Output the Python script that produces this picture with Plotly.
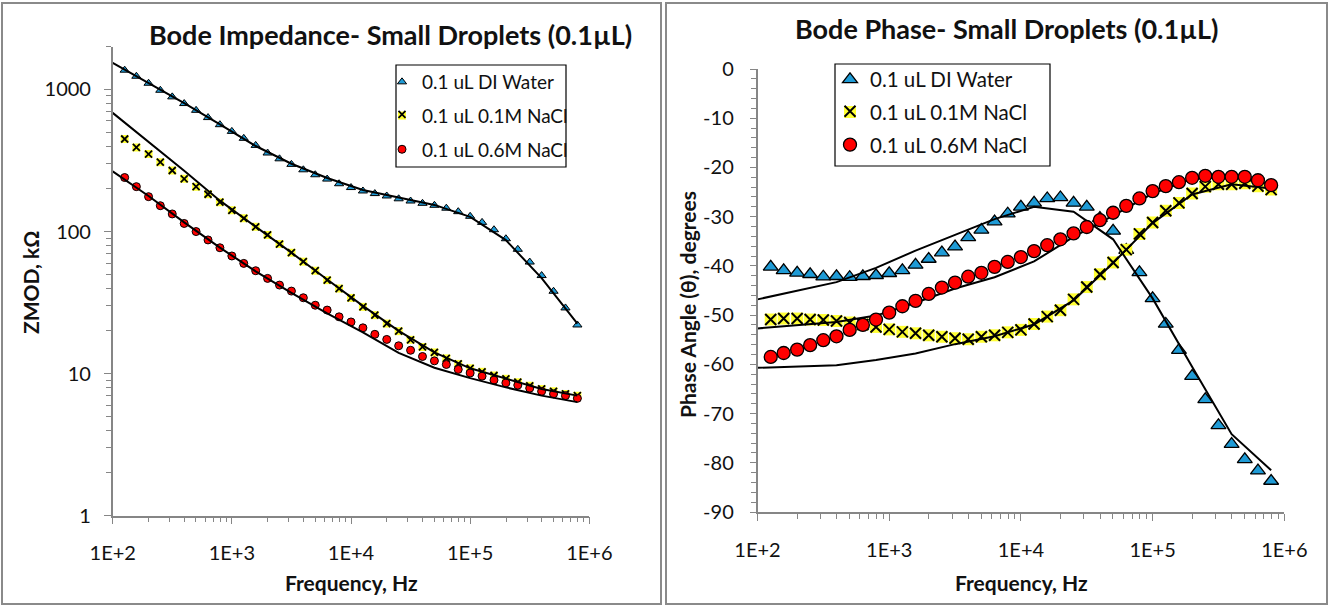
import math
import plotly.graph_objects as go

W, H = 1330, 606

# ---------------- data ----------------
freq_hz = [126, 158, 200, 251, 316, 398, 501, 631, 794,
           1000, 1259, 1585, 1995, 2512, 3162, 3981, 5012, 6310, 7943,
           10000, 12589, 15849, 19953, 25119, 31623, 39811, 50119, 63096, 79433,
           100000, 125893, 158489, 199526, 251189, 316228, 398107, 501187, 630957, 794328]

fit_freq_hz = [100, 200, 398, 794, 1585, 3162, 6310, 12589, 25119, 50119,
               100000, 199526, 398107, 794328]

# |Z| in kOhm
zmod_di_water = [1367, 1239, 1106, 987, 887, 796, 713, 634, 565, 507,
                 453, 404, 357, 325, 297, 272, 251, 234, 217, 204,
                 193, 185, 178, 170, 164, 158, 153, 146, 138, 128,
                 116, 103, 89, 75, 61, 49, 38, 29, 22]
zmod_nacl_01 = [448, 391, 351, 308, 269, 235, 207, 183, 161, 141,
                124, 108, 94.6, 81.7, 71.0, 61.4, 53.0, 45.5, 39.7, 34.1,
                29.5, 25.8, 22.5, 19.9, 17.3, 15.4, 14.1, 12.8, 11.7, 10.9,
                10.3, 9.7, 9.2, 8.7, 8.2, 7.8, 7.5, 7.2, 7.0]
zmod_nacl_06 = [240, 207, 176, 152, 133, 114, 100, 87.3, 76.9, 67.3,
                59.7, 53.0, 46.8, 42.0, 38.1, 34.2, 30.3, 28.0, 25.1, 23.1,
                21.0, 18.9, 17.4, 15.7, 14.6, 13.2, 12.3, 11.6, 10.7, 10.1,
                9.6, 9.0, 8.6, 8.3, 7.9, 7.5, 7.2, 7.0, 6.7]

zfit_di_water = [1541, 1110, 800, 568, 400, 300, 238, 196, 173, 154, 127, 87, 47, 22.5]
zfit_nacl_01 = [684, 430, 268, 165, 109, 71, 46, 30, 20, 14.1, 10.9, 9.2, 7.8, 7.0]
zfit_nacl_06 = [265, 178, 116, 77, 52.5, 37, 26.5, 19.5, 14.0, 11.0, 9.3, 8.0, 7.0, 6.3]

# phase in degrees
phase_di_water = [-40.2, -40.9, -41.4, -41.7, -42.2, -42.1, -42.3, -42.1, -41.9, -41.5,
                  -40.9, -39.8, -38.6, -37.3, -36.1, -34.2, -32.7, -31.0, -29.4, -28.0,
                  -27.2, -26.3, -26.1, -27.2, -28.0, -30.3, -32.9, -36.8, -41.3, -46.6,
                  -51.8, -57.1, -62.4, -67.1, -72.4, -76.2, -79.3, -81.6, -83.7]
phase_nacl_01 = [-50.9, -50.7, -50.7, -50.9, -51.0, -51.2, -51.5, -51.9, -52.4, -52.9,
                 -53.4, -53.7, -54.1, -54.4, -54.7, -54.9, -54.4, -54.1, -53.5, -53.0,
                 -51.8, -50.3, -49.0, -46.8, -44.3, -41.7, -39.3, -36.7, -33.5, -31.2,
                 -28.8, -27.2, -25.3, -23.9, -23.4, -23.4, -23.2, -23.8, -24.5]
phase_nacl_06 = [-58.5, -57.7, -57.0, -56.1, -55.1, -54.3, -53.0, -52.0, -50.9, -49.5,
                 -48.2, -47.1, -45.7, -44.4, -43.4, -42.2, -41.4, -40.2, -39.2, -38.2,
                 -37.0, -35.8, -34.6, -33.4, -32.1, -30.7, -29.2, -27.8, -26.3, -24.8,
                 -23.8, -23.0, -22.1, -21.7, -21.9, -21.9, -21.9, -22.6, -23.6]

pfit_di_water = [-46.8, -45.0, -43.3, -40.4, -36.9, -33.7, -30.5, -28.0, -29.0, -34.6,
                 -46.6, -60.5, -74.2, -81.5]
pfit_nacl_01 = [-60.7, -60.5, -60.2, -59.1, -57.8, -55.9, -54.3, -51.9, -47.0, -39.4,
                -31.3, -25.5, -23.4, -24.3]
pfit_nacl_06 = [-52.7, -52.0, -51.4, -50.1, -47.5, -44.6, -42.3, -39.1, -34.1, -29.8,
                -25.3, -22.3, -22.0, -23.4]

series_names = ["0.1 uL DI Water", "0.1 uL 0.1M NaCl", "0.1 uL 0.6M NaCl"]
x_tick_vals = [100, 1000, 10000, 100000, 1000000]
x_tick_text = ["1E+2", "1E+3", "1E+4", "1E+5", "1E+6"]
z_tick_vals = [1, 10, 100, 1000]
z_tick_text = ["1", "10", "100", "1000"]
phase_tick_vals = [0, -10, -20, -30, -40, -50, -60, -70, -80, -90]
phase_tick_text = ["0", "-10", "-20", "-30", "-40", "-50", "-60", "-70", "-80", "-90"]

# ---------------- style ----------------
FONT = "Lato"
TXT = "#111111"
AXC = "#868686"
BLUE = "#1f9bd6"
YEL = "#ffff33"
RED = "#ff0000"


def px(xp):
    return xp / W


def py(yp):
    return 1 - yp / H


x_minor = [m * 10 ** e for e in range(2, 6) for m in range(2, 10)]
z_minor = [m * 10 ** e for e in range(0, 4) for m in range(2, 10) if m * 10 ** e <= 2000]

fig = go.Figure()

# ---------- left: impedance ----------
fig.add_trace(go.Scatter(x=freq_hz, y=zmod_di_water, mode="markers", name=series_names[0],
                         marker=dict(symbol="triangle-up", size=8, color=BLUE,
                                     line=dict(color="black", width=1)),
                         xaxis="x", yaxis="y", legend="legend", legendgroup="a"))
fig.add_trace(go.Scatter(x=freq_hz, y=zmod_nacl_01, mode="markers", name=series_names[1],
                         marker=dict(symbol="square", size=8, color=YEL, line=dict(width=0)),
                         xaxis="x", yaxis="y", legend="legend", legendgroup="b"))
fig.add_trace(go.Scatter(x=freq_hz, y=zmod_nacl_01, mode="markers", name=" ",
                         marker=dict(symbol="x-thin", size=7, color="black",
                                     line=dict(color="black", width=1.8)),
                         xaxis="x", yaxis="y", legend="legend3", legendgroup="bx"))
fig.add_trace(go.Scatter(x=freq_hz, y=zmod_nacl_06, mode="markers", name=series_names[2],
                         marker=dict(symbol="circle", size=8, color=RED,
                                     line=dict(color="black", width=1)),
                         xaxis="x", yaxis="y", legend="legend", legendgroup="c"))
for zf in (zfit_di_water, zfit_nacl_01, zfit_nacl_06):
    fig.add_trace(go.Scatter(x=fit_freq_hz, y=zf, mode="lines", showlegend=False,
                             line=dict(color="black", width=2), xaxis="x", yaxis="y"))

# ---------- right: phase ----------
fig.add_trace(go.Scatter(x=freq_hz, y=phase_di_water, mode="markers", name=series_names[0],
                         marker=dict(symbol="triangle-up", size=13, color=BLUE,
                                     line=dict(color="black", width=1.3)),
                         xaxis="x2", yaxis="y2", legend="legend2", legendgroup="d"))
fig.add_trace(go.Scatter(x=freq_hz, y=phase_nacl_01, mode="markers", name=series_names[1],
                         marker=dict(symbol="square", size=12, color=YEL, line=dict(width=0)),
                         xaxis="x2", yaxis="y2", legend="legend2", legendgroup="e"))
fig.add_trace(go.Scatter(x=freq_hz, y=phase_nacl_01, mode="markers", name=" ",
                         marker=dict(symbol="x-thin", size=11, color="black",
                                     line=dict(color="black", width=2)),
                         xaxis="x2", yaxis="y2", legend="legend4", legendgroup="ex"))
fig.add_trace(go.Scatter(x=fit_freq_hz, y=pfit_di_water, mode="lines", showlegend=False,
                         line=dict(color="black", width=2), xaxis="x2", yaxis="y2"))
fig.add_trace(go.Scatter(x=fit_freq_hz, y=pfit_nacl_01, mode="lines", showlegend=False,
                         line=dict(color="black", width=2), xaxis="x2", yaxis="y2"))
fig.add_trace(go.Scatter(x=fit_freq_hz, y=pfit_nacl_06, mode="lines", showlegend=False,
                         line=dict(color="black", width=2), xaxis="x2", yaxis="y2"))
fig.add_trace(go.Scatter(x=freq_hz, y=phase_nacl_06, mode="markers", name=series_names[2],
                         marker=dict(symbol="circle", size=13, color=RED,
                                     line=dict(color="black", width=1.3)),
                         xaxis="x2", yaxis="y2", legend="legend2", legendgroup="f"))

tickfont = dict(family=FONT, size=20, color=TXT)

xl_dom = [px(112.7), px(589.3)]
xr_dom = [px(757.5), px(1284.3)]
yl_dom = [py(515.7), py(46.7)]
yr_dom = [py(512), py(69)]


def log_x(domain, anchor, inside=False, overlay=None):
    d = dict(type="log", range=[2, 6], tickmode="array", tickvals=x_tick_vals,
             ticktext=x_tick_text, showgrid=False, zeroline=False, automargin=False,
             ticks="inside" if inside else "outside", ticklen=7, tickwidth=1.3, tickcolor=AXC,
             minor=dict(tickmode="array", tickvals=x_minor,
                        ticks="inside" if inside else "outside",
                        ticklen=5, tickwidth=1.3, tickcolor=AXC, showgrid=False),
             anchor=anchor, fixedrange=True)
    if inside:
        d.update(showline=False, showticklabels=False, overlaying=overlay)
    else:
        d.update(domain=domain, showline=True, linecolor=AXC, linewidth=1.5,
                 tickfont=tickfont, ticklabelstandoff=12)
    return d


def z_y(anchor, inside=False, overlay=None):
    d = dict(type="log", range=[0, math.log10(2000)], tickmode="array",
             tickvals=z_tick_vals, ticktext=z_tick_text, showgrid=False, zeroline=False,
             automargin=False,
             ticks="inside" if inside else "outside", ticklen=7, tickwidth=1.3, tickcolor=AXC,
             minor=dict(tickmode="array", tickvals=z_minor,
                        ticks="inside" if inside else "outside",
                        ticklen=5, tickwidth=1.3, tickcolor=AXC, showgrid=False),
             anchor=anchor, fixedrange=True)
    if inside:
        d.update(showline=False, showticklabels=False, overlaying=overlay)
    else:
        d.update(domain=yl_dom, showline=True, linecolor=AXC, linewidth=1.5,
                 tickfont=tickfont, ticklabelstandoff=9)
    return d


def p_y(anchor, inside=False, overlay=None):
    d = dict(type="linear", range=[-90, 0], tickmode="array", tickvals=phase_tick_vals,
             ticktext=phase_tick_text, showgrid=False, zeroline=False, automargin=False,
             ticks="inside" if inside else "outside", ticklen=6, tickwidth=1.3, tickcolor=AXC,
             minor=dict(tickmode="linear", tick0=0, dtick=2,
                        ticks="inside" if inside else "outside",
                        ticklen=5, tickwidth=1.3, tickcolor=AXC, showgrid=False),
             anchor=anchor, fixedrange=True)
    if inside:
        d.update(showline=False, showticklabels=False, overlaying=overlay)
    else:
        d.update(domain=yr_dom, showline=True, linecolor=AXC, linewidth=1.5,
                 tickfont=tickfont, ticklabelstandoff=12)
    return d


legend_common = dict(xanchor="left", yanchor="top", bgcolor="rgba(0,0,0,0)",
                     borderwidth=0, itemclick=False, itemdoubleclick=False)

LX, LY, LG = 382, 63, 32.5
RX, RY, RG = 830, 59.5, 32.0

fig.update_layout(
    width=W, height=H, margin=dict(l=0, r=0, t=0, b=0, autoexpand=False),
    paper_bgcolor="white", plot_bgcolor="white",
    font=dict(family=FONT, color=TXT),
    xaxis=log_x(xl_dom, "y"),
    yaxis=z_y("x"),
    xaxis3=log_x(None, "y", inside=True, overlay="x"),
    yaxis3=z_y("x", inside=True, overlay="y"),
    xaxis2=log_x(xr_dom, "y2"),
    yaxis2=p_y("x2"),
    xaxis4=log_x(None, "y2", inside=True, overlay="x2"),
    yaxis4=p_y("x2", inside=True, overlay="y2"),
    legend=dict(x=px(LX), y=py(LY), font=dict(family=FONT, size=19, color=TXT),
                tracegroupgap=6, **legend_common),
    legend3=dict(x=px(LX), y=py(LY + LG), font=dict(family=FONT, size=19, color=TXT),
                 tracegroupgap=6, **legend_common),
    legend2=dict(x=px(RX), y=py(RY), font=dict(family=FONT, size=20.5, color=TXT),
                 tracegroupgap=3, **legend_common),
    legend4=dict(x=px(RX), y=py(RY + RG), font=dict(family=FONT, size=20.5, color=TXT),
                 tracegroupgap=3, **legend_common),
    shapes=[
        dict(type="rect", xref="paper", yref="paper", x0=px(2), x1=px(661), y0=py(604), y1=py(3),
             line=dict(color="#8a8a8a", width=2), layer="below"),
        dict(type="rect", xref="paper", yref="paper", x0=px(666), x1=px(1327), y0=py(604), y1=py(3),
             line=dict(color="#8a8a8a", width=2), layer="below"),
        dict(type="rect", xref="paper", yref="paper", x0=px(396), x1=px(566), y0=py(167), y1=py(65),
             line=dict(color="black", width=1.2), layer="above"),
        dict(type="rect", xref="paper", yref="paper", x0=px(835), x1=px(1050), y0=py(166), y1=py(64),
             line=dict(color="black", width=1.2), layer="above"),
    ],
    annotations=[
        dict(text="<b>Bode Impedance- Small Droplets (0.1µL)</b>", x=px(390), y=py(35),
             xref="paper", yref="paper", showarrow=False, xanchor="center", yanchor="middle",
             font=dict(family=FONT, size=27, color=TXT)),
        dict(text="<b>Bode Phase- Small Droplets (0.1µL)</b>", x=px(1006), y=py(28),
             xref="paper", yref="paper", showarrow=False, xanchor="center", yanchor="middle",
             font=dict(family=FONT, size=27, color=TXT)),
        dict(text="<b>ZMOD, kΩ</b>", x=px(30), y=py(283), textangle=-90,
             xref="paper", yref="paper", showarrow=False, xanchor="center", yanchor="middle",
             font=dict(family=FONT, size=21, color=TXT)),
        dict(text="<b>Phase Angle (θ), degrees</b>", x=px(687), y=py(305), textangle=-90,
             xref="paper", yref="paper", showarrow=False, xanchor="center", yanchor="middle",
             font=dict(family=FONT, size=21, color=TXT)),
        dict(text="<b>Frequency, Hz</b>", x=px(352), y=py(582),
             xref="paper", yref="paper", showarrow=False, xanchor="center", yanchor="middle",
             font=dict(family=FONT, size=21, color=TXT)),
        dict(text="<b>Frequency, Hz</b>", x=px(1021), y=py(582),
             xref="paper", yref="paper", showarrow=False, xanchor="center", yanchor="middle",
             font=dict(family=FONT, size=21, color=TXT)),
    ],
)

fig.write_html("out.html")
